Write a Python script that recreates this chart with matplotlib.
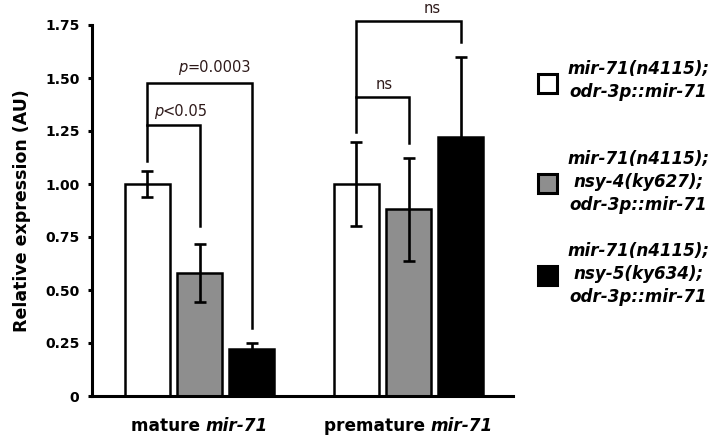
import matplotlib
matplotlib.use("Agg")
import matplotlib.pyplot as plt
from matplotlib.patches import Rectangle
from matplotlib.offsetbox import TextArea, HPacker, AnnotationBbox

# data
groups = ["mature", "premature"]
strains = ["mir-71(n4115);\nodr-3p::mir-71",
           "mir-71(n4115);\nnsy-4(ky627);\nodr-3p::mir-71",
           "mir-71(n4115);\nnsy-5(ky634);\nodr-3p::mir-71"]
mature_vals = [1.00, 0.58, 0.22]
mature_err = [0.06, 0.135, 0.03]
premature_vals = [1.00, 0.88, 1.22]
premature_err = [0.20, 0.245, 0.38]
bar_colors = ["white", "#8e8e8e", "black"]
yticks = [0, 0.25, 0.5, 0.75, 1.0, 1.25, 1.5, 1.75]
yticklabels = ["0", "0.25", "0.50", "0.75", "1.00", "1.25", "1.50", "1.75"]

txtcol = "#2e1a1a"

fig = plt.figure(figsize=(7.14, 4.41), dpi=100)
ax = fig.add_axes([92/714, 45/441, 421/714, 371/441])

centers = [2, 6]
offs = [-1, 0, 1]
w = 0.86
for c, vals, errs in [(centers[0], mature_vals, mature_err), (centers[1], premature_vals, premature_err)]:
    for i in range(3):
        ax.bar(c + offs[i], vals[i], width=w, color=bar_colors[i], edgecolor="black",
               linewidth=1.8, zorder=2)
        ax.errorbar(c + offs[i], vals[i], yerr=errs[i], color="black", elinewidth=1.9,
                    capsize=4, capthick=1.9, zorder=3)

# significance brackets
lw = 1.8
def bracket(x1, x2, top, b1, b2):
    ax.plot([x1, x1, x2, x2], [b1, top, top, b2], color="black", lw=lw,
            clip_on=False, solid_joinstyle="miter", zorder=4)

bracket(1, 2, 1.278, 1.11, 0.80)
bracket(1, 3, 1.476, 1.278, 0.32)
bracket(5, 6, 1.41, 1.245, 1.193)
bracket(5, 7, 1.77, 1.41, 1.67)

def ptext(x, y, rest):
    box = HPacker(children=[TextArea("p", textprops=dict(style="italic", fontsize=10.5, color=txtcol)),
                            TextArea(rest, textprops=dict(fontsize=10.5, color=txtcol))],
                  align="baseline", pad=0, sep=0)
    ab = AnnotationBbox(box, (x, y), xycoords="data", frameon=False, annotation_clip=False)
    ax.add_artist(ab)

ptext(1.64, 1.34, "<0.05")
ptext(2.28, 1.55, "=0.0003")
ax.text(5.53, 1.467, "ns", fontsize=10.5, color=txtcol, ha="center", va="center")
ax.text(6.45, 1.83, "ns", fontsize=10.5, color=txtcol, ha="center", va="center", clip_on=False)

# axes styling
ax.set_xlim(-0.06, 8.0)
ax.set_ylim(0, 1.75)
ax.spines["top"].set_visible(False)
ax.spines["right"].set_visible(False)
ax.spines["left"].set_linewidth(2.2)
ax.spines["bottom"].set_linewidth(2.2)
ax.set_yticks(yticks)
ax.set_yticklabels(yticklabels, fontsize=10, fontweight="bold")
ax.tick_params(axis="y", length=3, width=2.2, pad=6)
ax.set_xticks([])
ax.set_ylabel("Relative expression (AU)", fontsize=12.5, fontweight="bold", labelpad=10)

for c, g in zip(centers, groups):
    box = HPacker(children=[TextArea(g + " ", textprops=dict(fontweight="bold", fontsize=12.2)),
                            TextArea("mir-71", textprops=dict(fontweight="bold", style="italic", fontsize=12.2))],
                  align="baseline", pad=0, sep=0)
    ab = AnnotationBbox(box, (c, -0.082), xycoords=("data", "axes fraction"), frameon=False,
                        annotation_clip=False)
    ax.add_artist(ab)

# legend drawn by hand
sq = 19
leg_y = [83, 183, 275]
txt_y = [80.5, 182, 274]
for i in range(3):
    fig.patches.append(Rectangle(((547.5 - sq/2)/714, 1 - (leg_y[i] + sq/2)/441), sq/714, sq/441,
                                 transform=fig.transFigure, facecolor=bar_colors[i],
                                 edgecolor="black", linewidth=2.2))
    fig.text(638.5/714, 1 - txt_y[i]/441, strains[i], ha="center", va="center",
             fontsize=12.1, fontweight="bold", style="italic", linespacing=1.38)

fig.savefig("out.png", dpi=100)
